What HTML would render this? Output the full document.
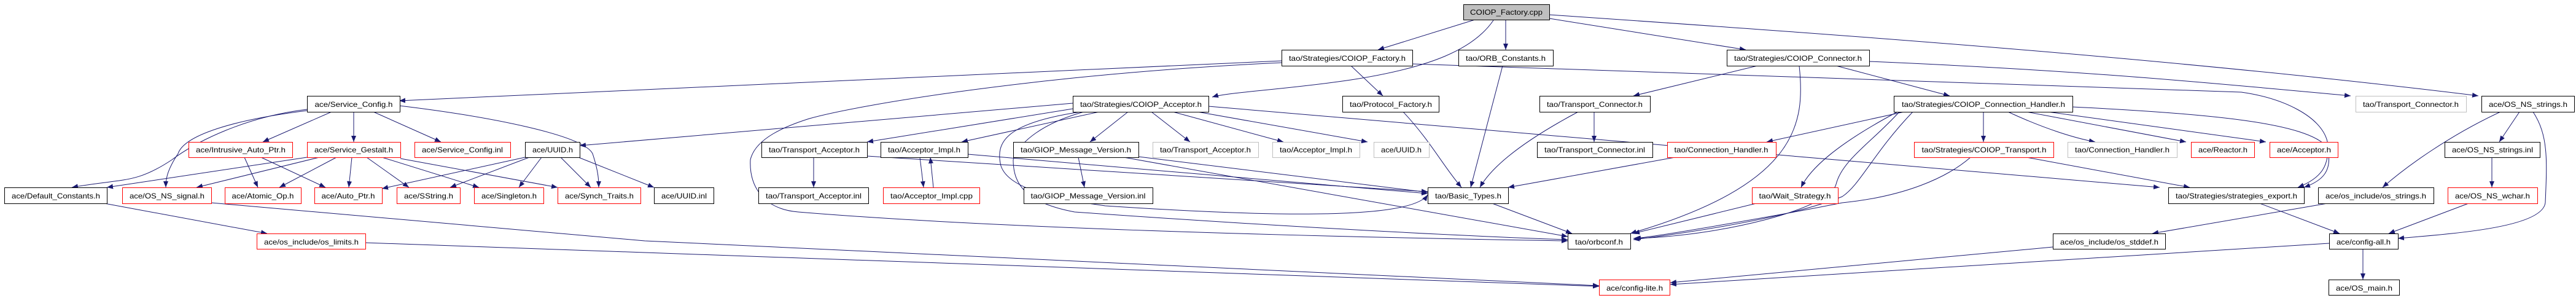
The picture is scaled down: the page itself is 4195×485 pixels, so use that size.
<!DOCTYPE html>
<html><head><meta charset="utf-8"><style>
html,body{margin:0;padding:0;background:#fff;}
svg{display:block;}
text{font-family:"Liberation Sans",sans-serif;font-size:12px;fill:#000;}
.e{fill:none;stroke:#191970;stroke-width:1;}
</style></head><body>
<svg width="4195" height="485" viewBox="0 0 4195 485" xmlns="http://www.w3.org/2000/svg">
<defs><marker id="a" markerWidth="10" markerHeight="8" refX="10" refY="4" orient="auto" markerUnits="userSpaceOnUse"><path d="M0,0 L10,4 L0,8 z" fill="#191970"/></marker></defs>
<g class="e" marker-end="url(#a)">
<path d="M2402,32 L2244,81"/>
<path d="M2432,33 C2400,80 2330,110 2200,130 C2100,145 2000,150 1974,158"/>
<path d="M2452,32 L2452,81"/>
<path d="M2523,30 L2843,81"/>
<path d="M2523,24 C2900,50 3500,90 4036,156"/>
<path d="M2087,99 L650,164"/>
<path d="M2087,102 C1700,120 1400,170 1318,193 C1280,205 1230,225 1222,260 C1220,300 1240,340 1300,345 C1600,370 2100,385 2553,392"/>
<path d="M2200,107 L2252,156"/>
<path d="M2300,104 C2600,115 3000,125 3650,150 C3720,160 3780,190 3790,230 C3795,270 3780,290 3742,305"/>
<path d="M2285,182 C2330,230 2350,270 2380,305"/>
<path d="M2447,107 L2395,305"/>
<path d="M2570,182 C2480,230 2430,270 2410,305"/>
<path d="M2596,182 L2596,231"/>
<path d="M2862,107 L2660,156"/>
<path d="M2930,107 C2940,200 2930,300 2655,380"/>
<path d="M2990,107 L3175,156"/>
<path d="M3044,100 C3400,115 3600,135 3828,156"/>
<path d="M3110,180 L2877,231"/>
<path d="M3230,182 L3230,231"/>
<path d="M3270,182 C3330,210 3380,225 3412,231"/>
<path d="M3300,182 L3560,231"/>
<path d="M3335,182 L3690,231"/>
<path d="M3375,174 C3600,185 3760,200 3790,240 C3800,280 3780,295 3752,305"/>
<path d="M3093,182 C3050,230 3000,260 2990,300 C2980,340 2800,385 2660,388"/>
<path d="M3115,182 C3050,250 3030,300 3000,320 C2900,360 2700,385 2660,390"/>
<path d="M3090,182 C3000,230 2950,270 2933,305"/>
<path d="M2728,256 L2456,305"/>
<path d="M3300,256 L3566,305"/>
<path d="M3209,256 C3170,290 3100,320 3000,330 C2900,350 2700,385 2662,388"/>
<path d="M2860,331 L2660,380"/>
<path d="M2430,331 L2560,380"/>
<path d="M4103,182 L4070,231"/>
<path d="M4072,182 C3990,220 3920,270 3880,305"/>
<path d="M4125,182 C4150,220 4148,260 4145,330 C4140,370 4000,380 3905,388"/>
<path d="M4058,256 L4058,305"/>
<path d="M4020,331 L3890,380"/>
<path d="M3680,331 L3810,380"/>
<path d="M3790,331 L3505,380"/>
<path d="M3343,402 L2720,460"/>
<path d="M3793,396 L2720,463"/>
<path d="M3848,405 L3848,455"/>
<path d="M1747,177 L1412,231"/>
<path d="M1790,182 L1566,231"/>
<path d="M1837,182 L1775,231"/>
<path d="M1875,182 L1938,231"/>
<path d="M1910,182 L2090,231"/>
<path d="M1950,182 L2227,231"/>
<path d="M1747,168 L944,237"/>
<path d="M1968,173 L3517,305"/>
<path d="M1765,182 C1700,200 1660,230 1650,260 C1650,300 1670,330 1750,345 C2100,370 2400,385 2553,390"/>
<path d="M1760,182 C1640,200 1620,230 1630,270 C1640,300 1690,320 1800,335 C2100,355 2300,355 2325,317"/>
<path d="M1325,256 L1325,305"/>
<path d="M1412,254 L2325,312"/>
<path d="M1498,256 L1504,305"/>
<path d="M1520,305 L1515,256"/>
<path d="M1576,251 L2325,315"/>
<path d="M1756,256 L1766,305"/>
<path d="M1854,255 L2325,313"/>
<path d="M1830,256 L2553,385"/>
<path d="M540,182 L428,231"/>
<path d="M576,182 L576,231"/>
<path d="M608,182 L718,231"/>
<path d="M500,178 C400,190 320,230 280,260 C220,300 200,290 117,305"/>
<path d="M500,180 C380,195 300,220 290,250 C270,280 270,295 270,305"/>
<path d="M650,172 C800,190 950,220 965,250 C975,280 975,295 975,305"/>
<path d="M398,256 L420,305"/>
<path d="M425,256 L530,305"/>
<path d="M500,256 L174,305"/>
<path d="M520,256 L320,305"/>
<path d="M548,256 L455,305"/>
<path d="M573,256 L568,305"/>
<path d="M597,256 L666,305"/>
<path d="M622,256 L780,305"/>
<path d="M652,258 L908,305"/>
<path d="M855,256 L622,307"/>
<path d="M862,256 L733,305"/>
<path d="M882,256 L845,305"/>
<path d="M913,256 L962,305"/>
<path d="M942,256 L1065,305"/>
<path d="M170,331 L435,380"/>
<path d="M344,330 L1050,392 L2604,465"/>
<path d="M595,395 L1050,411 L2604,466"/>
</g>
<g stroke-width="1">
<rect x="2383.5" y="7.5" width="140" height="25" fill="#bfbfbf" stroke="#000"/>
<text x="2453" y="24" text-anchor="middle" textLength="118" lengthAdjust="spacingAndGlyphs">COIOP_Factory.cpp</text>
</g>
<g fill="#fff" stroke="#000">
<rect x="2087.5" y="81.5" width="213" height="26"/><rect x="2375.5" y="81.5" width="154" height="26"/><rect x="2812.5" y="81.5" width="232" height="26"/>
<rect x="500.5" y="156.5" width="151" height="26"/><rect x="1747.5" y="156.5" width="221" height="26"/><rect x="2186.5" y="156.5" width="157" height="26"/><rect x="2507.5" y="156.5" width="180" height="26"/><rect x="3084.5" y="156.5" width="291" height="26"/><rect x="4041.5" y="156.5" width="151" height="26"/>
<rect x="855.5" y="231.5" width="89" height="25"/><rect x="1240.5" y="231.5" width="172" height="25"/><rect x="1434.5" y="231.5" width="142" height="25"/><rect x="1650.5" y="231.5" width="204" height="25"/><rect x="2503.5" y="231.5" width="188" height="25"/><rect x="3981.5" y="231.5" width="155" height="25"/>
<rect x="7.5" y="305.5" width="167" height="26"/><rect x="1065.5" y="305.5" width="97" height="26"/><rect x="1235.5" y="305.5" width="179" height="26"/><rect x="1667.5" y="305.5" width="210" height="26"/><rect x="2325.5" y="305.5" width="131" height="26"/><rect x="3531.5" y="305.5" width="221" height="26"/><rect x="3775.5" y="305.5" width="188" height="26"/>
<rect x="2553.5" y="380.5" width="102" height="25"/><rect x="3343.5" y="380.5" width="183" height="25"/><rect x="3793.5" y="380.5" width="112" height="25"/>
<rect x="3792.5" y="455.5" width="115" height="25"/>
</g>
<g fill="#fff" stroke="#bfbfbf">
<rect x="3836.5" y="156.5" width="180" height="26"/>
<rect x="1877.5" y="231.5" width="172" height="25"/><rect x="2072.5" y="231.5" width="142" height="25"/><rect x="2237.5" y="231.5" width="90" height="25"/><rect x="3367.5" y="231.5" width="178" height="25"/>
</g>
<g fill="#fff" stroke="#ff0000">
<rect x="307.5" y="231.5" width="169" height="25"/><rect x="500.5" y="231.5" width="152" height="25"/><rect x="675.5" y="231.5" width="156" height="25"/><rect x="2715.5" y="231.5" width="177" height="25"/><rect x="3117.5" y="231.5" width="227" height="25"/><rect x="3568.5" y="231.5" width="103" height="25"/><rect x="3696.5" y="231.5" width="111" height="25"/>
<rect x="199.5" y="305.5" width="145" height="26"/><rect x="366.5" y="305.5" width="124" height="26"/><rect x="512.5" y="305.5" width="110" height="26"/><rect x="646.5" y="305.5" width="103" height="26"/><rect x="772.5" y="305.5" width="113" height="26"/><rect x="908.5" y="305.5" width="135" height="26"/><rect x="1438.5" y="305.5" width="157" height="26"/><rect x="2853.5" y="305.5" width="140" height="26"/><rect x="3986.5" y="305.5" width="146" height="26"/>
<rect x="418.5" y="380.5" width="177" height="25"/>
<rect x="2604.5" y="455.5" width="115" height="25"/>
</g>
<g text-anchor="middle">
<text x="2194" y="99" textLength="190" lengthAdjust="spacingAndGlyphs">tao/Strategies/COIOP_Factory.h</text>
<text x="2452" y="99" textLength="130" lengthAdjust="spacingAndGlyphs">tao/ORB_Constants.h</text>
<text x="2928" y="99" textLength="208" lengthAdjust="spacingAndGlyphs">tao/Strategies/COIOP_Connector.h</text>
<text x="576" y="174" textLength="127" lengthAdjust="spacingAndGlyphs">ace/Service_Config.h</text>
<text x="1858" y="174" textLength="198" lengthAdjust="spacingAndGlyphs">tao/Strategies/COIOP_Acceptor.h</text>
<text x="2265" y="174" textLength="134" lengthAdjust="spacingAndGlyphs">tao/Protocol_Factory.h</text>
<text x="2597" y="174" textLength="156" lengthAdjust="spacingAndGlyphs">tao/Transport_Connector.h</text>
<text x="3230" y="174" textLength="266" lengthAdjust="spacingAndGlyphs">tao/Strategies/COIOP_Connection_Handler.h</text>
<text x="3926" y="174" textLength="156" lengthAdjust="spacingAndGlyphs">tao/Transport_Connector.h</text>
<text x="4117" y="174" textLength="128" lengthAdjust="spacingAndGlyphs">ace/OS_NS_strings.h</text>
<text x="392" y="248" textLength="146" lengthAdjust="spacingAndGlyphs">ace/Intrusive_Auto_Ptr.h</text>
<text x="576" y="248" textLength="128" lengthAdjust="spacingAndGlyphs">ace/Service_Gestalt.h</text>
<text x="753" y="248" textLength="132" lengthAdjust="spacingAndGlyphs">ace/Service_Config.inl</text>
<text x="900" y="248" textLength="66" lengthAdjust="spacingAndGlyphs">ace/UUID.h</text>
<text x="1326" y="248" textLength="148" lengthAdjust="spacingAndGlyphs">tao/Transport_Acceptor.h</text>
<text x="1505" y="248" textLength="118" lengthAdjust="spacingAndGlyphs">tao/Acceptor_Impl.h</text>
<text x="1752" y="248" textLength="180" lengthAdjust="spacingAndGlyphs">tao/GIOP_Message_Version.h</text>
<text x="1963" y="248" textLength="148" lengthAdjust="spacingAndGlyphs">tao/Transport_Acceptor.h</text>
<text x="2143" y="248" textLength="118" lengthAdjust="spacingAndGlyphs">tao/Acceptor_Impl.h</text>
<text x="2282" y="248" textLength="66" lengthAdjust="spacingAndGlyphs">ace/UUID.h</text>
<text x="2597" y="248" textLength="164" lengthAdjust="spacingAndGlyphs">tao/Transport_Connector.inl</text>
<text x="2803" y="248" textLength="153" lengthAdjust="spacingAndGlyphs">tao/Connection_Handler.h</text>
<text x="3231" y="248" textLength="203" lengthAdjust="spacingAndGlyphs">tao/Strategies/COIOP_Transport.h</text>
<text x="3456" y="248" textLength="154" lengthAdjust="spacingAndGlyphs">tao/Connection_Handler.h</text>
<text x="3620" y="248" textLength="80" lengthAdjust="spacingAndGlyphs">ace/Reactor.h</text>
<text x="3752" y="248" textLength="88" lengthAdjust="spacingAndGlyphs">ace/Acceptor.h</text>
<text x="4059" y="248" textLength="132" lengthAdjust="spacingAndGlyphs">ace/OS_NS_strings.inl</text>
<text x="91" y="323" textLength="144" lengthAdjust="spacingAndGlyphs">ace/Default_Constants.h</text>
<text x="272" y="323" textLength="122" lengthAdjust="spacingAndGlyphs">ace/OS_NS_signal.h</text>
<text x="428" y="323" textLength="101" lengthAdjust="spacingAndGlyphs">ace/Atomic_Op.h</text>
<text x="567" y="323" textLength="87" lengthAdjust="spacingAndGlyphs">ace/Auto_Ptr.h</text>
<text x="698" y="323" textLength="80" lengthAdjust="spacingAndGlyphs">ace/SString.h</text>
<text x="829" y="323" textLength="90" lengthAdjust="spacingAndGlyphs">ace/Singleton.h</text>
<text x="976" y="323" textLength="112" lengthAdjust="spacingAndGlyphs">ace/Synch_Traits.h</text>
<text x="1114" y="323" textLength="74" lengthAdjust="spacingAndGlyphs">ace/UUID.inl</text>
<text x="1325" y="323" textLength="156" lengthAdjust="spacingAndGlyphs">tao/Transport_Acceptor.inl</text>
<text x="1517" y="323" textLength="134" lengthAdjust="spacingAndGlyphs">tao/Acceptor_Impl.cpp</text>
<text x="1772" y="323" textLength="187" lengthAdjust="spacingAndGlyphs">tao/GIOP_Message_Version.inl</text>
<text x="2391" y="323" textLength="108" lengthAdjust="spacingAndGlyphs">tao/Basic_Types.h</text>
<text x="2923" y="323" textLength="117" lengthAdjust="spacingAndGlyphs">tao/Wait_Strategy.h</text>
<text x="3642" y="323" textLength="198" lengthAdjust="spacingAndGlyphs">tao/Strategies/strategies_export.h</text>
<text x="3869" y="323" textLength="164" lengthAdjust="spacingAndGlyphs">ace/os_include/os_strings.h</text>
<text x="4059" y="323" textLength="122" lengthAdjust="spacingAndGlyphs">ace/OS_NS_wchar.h</text>
<text x="507" y="398" textLength="154" lengthAdjust="spacingAndGlyphs">ace/os_include/os_limits.h</text>
<text x="2604" y="398" textLength="78" lengthAdjust="spacingAndGlyphs">tao/orbconf.h</text>
<text x="3435" y="398" textLength="160" lengthAdjust="spacingAndGlyphs">ace/os_include/os_stddef.h</text>
<text x="3849" y="398" textLength="88" lengthAdjust="spacingAndGlyphs">ace/config-all.h</text>
<text x="2662" y="473" textLength="92" lengthAdjust="spacingAndGlyphs">ace/config-lite.h</text>
<text x="3850" y="473" textLength="92" lengthAdjust="spacingAndGlyphs">ace/OS_main.h</text>
</g>
</svg>
</body></html>
